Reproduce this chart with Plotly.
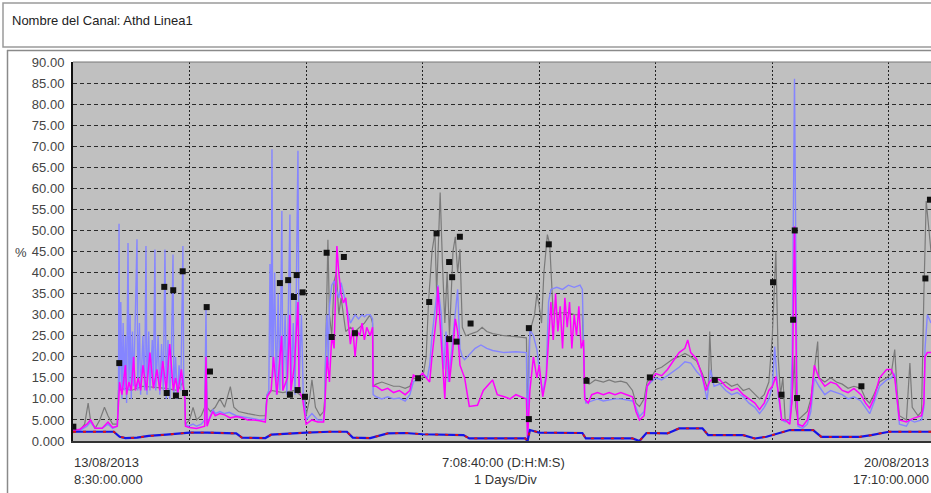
import plotly.graph_objects as go

# ---------------- data (x in days since 13/08/2013 08:30) ----------------
blue_x = [0.00,0.06,0.12,0.15,0.19,0.25,0.30,0.34,0.38,0.39,0.395,0.40,0.41,0.42,0.43,0.44,0.45,0.46,0.472,0.48,0.49,0.50,0.51,0.52,0.535,0.549,0.555,0.57,0.58,0.60,0.615,0.626,0.635,0.65,0.66,0.68,0.69,0.703,0.71,0.73,0.745,0.76,0.775,0.789,0.80,0.815,0.83,0.845,0.858,0.865,0.88,0.895,0.91,0.925,0.943,0.95,0.96,0.965,0.99,1.03,1.06,1.10,1.13,1.141,1.15,1.175,1.20,1.22,1.26,1.30,1.34,1.40,1.45,1.50,1.55,1.60,1.65,1.665,1.68,1.69,1.70,1.707,1.715,1.73,1.745,1.76,1.775,1.792,1.80,1.82,1.835,1.861,1.87,1.89,1.905,1.93,1.94,1.96,1.975,1.99,2.00,2.05,2.10,2.15,2.16,2.17,2.18,2.19,2.20,2.22,2.24,2.26,2.28,2.30,2.32,2.34,2.36,2.38,2.40,2.42,2.45,2.48,2.50,2.52,2.55,2.57,2.575,2.60,2.65,2.70,2.75,2.80,2.85,2.89,2.92,2.96,3.00,3.04,3.06,3.08,3.10,3.13,3.16,3.18,3.20,3.22,3.25,3.28,3.30,3.32,3.34,3.36,3.40,3.45,3.50,3.55,3.60,3.70,3.80,3.89,3.90,3.915,3.92,3.95,3.98,4.00,4.03,4.06,4.08,4.10,4.15,4.20,4.25,4.30,4.35,4.37,4.39,4.40,4.45,4.50,4.55,4.60,4.65,4.70,4.75,4.80,4.83,4.86,4.90,4.925,4.96,5.00,5.05,5.10,5.15,5.20,5.25,5.30,5.35,5.40,5.44,5.47,5.50,5.55,5.60,5.65,5.70,5.75,5.80,5.85,5.89,5.93,5.97,6.00,6.02,6.05,6.08,6.11,6.15,6.17,6.19,6.20,6.21,6.22,6.26,6.30,6.33,6.36,6.40,6.45,6.50,6.55,6.60,6.65,6.70,6.76,6.80,6.835,6.87,6.92,6.98,7.02,7.05,7.09,7.15,7.18,7.22,7.28,7.30,7.31,7.33,7.361]
blue_y = [3.0,2.5,3.5,4.5,3.0,3.0,4.0,3.0,3.5,10,51.6,12,33,10,28,12,25,9,47,12,30,10,26,13,30,47.9,12,28,11,25,12,46.3,11,26,12,24,13,45.5,12,25,11,23,12,45.5,10,24,10,22,44.3,11,20,10,18,12,46.3,13,10,4,3.5,4,3.5,4,5,31.8,4,6,7.5,6.5,7,6.5,6.8,6,5.8,5.5,5.3,5.0,5.2,11,12,42,20,69.3,15,40,11,35,12,54.6,12,30,11,53.8,12,28,11,68.9,13,30,11,8,5,6.5,5,5,8,25,30,18,32,37,38,36,34,37.6,35,33,30,28,29,30,29,30,29.5,30,30,29,11,10.5,10,10.5,10,10.2,9.5,11,14,15,16,15,18,25,30,37,30,17,26,14,22,30,36,22,20,19.3,20.5,22,22.8,22,21.5,21,21.2,21,0.2,24,26.4,25,21.7,17,11.3,16,33,36,36.5,36,37,36.5,37,36,11,9,9.5,10,9.5,9.8,10,10,9.8,9.5,8,5.8,7,13,14,15,14.5,15.5,16.5,17.5,18.8,18.5,16.5,15,9.8,16.9,13,13.5,12,11,11.5,10.5,9,8,6.5,8,10,13,22.4,11,5,4.5,5,20,86,50,15,3.5,3,4,7,15,13,11,12,11.5,11,10,10.5,9.5,8,6.5,9,13,14.5,15,16,4,3.5,5,4.5,5,8,22,30,28]

pink_x = [0.00,0.06,0.12,0.15,0.19,0.25,0.30,0.34,0.38,0.39,0.40,0.42,0.45,0.46,0.48,0.50,0.52,0.535,0.56,0.58,0.60,0.63,0.66,0.69,0.72,0.745,0.77,0.80,0.83,0.86,0.88,0.90,0.93,0.95,0.96,0.965,1.00,1.06,1.13,1.141,1.15,1.175,1.20,1.22,1.26,1.30,1.35,1.40,1.45,1.50,1.55,1.60,1.65,1.665,1.70,1.72,1.75,1.79,1.80,1.84,1.86,1.87,1.90,1.93,1.94,1.97,1.99,2.00,2.05,2.10,2.15,2.16,2.18,2.20,2.22,2.24,2.264,2.28,2.30,2.32,2.34,2.36,2.38,2.40,2.42,2.44,2.46,2.48,2.50,2.52,2.55,2.57,2.575,2.60,2.65,2.70,2.75,2.80,2.85,2.89,2.92,2.96,3.00,3.03,3.06,3.08,3.10,3.12,3.13,3.15,3.17,3.19,3.21,3.23,3.26,3.28,3.30,3.32,3.36,3.40,3.47,3.52,3.60,3.64,3.70,3.75,3.80,3.85,3.89,3.90,3.92,3.95,3.98,4.00,4.03,4.06,4.08,4.10,4.12,4.14,4.16,4.18,4.20,4.22,4.24,4.26,4.28,4.30,4.32,4.34,4.36,4.38,4.39,4.42,4.45,4.50,4.55,4.60,4.65,4.70,4.75,4.80,4.83,4.86,4.90,4.925,4.96,5.00,5.05,5.10,5.15,5.20,5.25,5.274,5.30,5.35,5.40,5.43,5.46,5.50,5.55,5.60,5.65,5.70,5.75,5.80,5.85,5.89,5.93,5.97,6.00,6.03,6.06,6.08,6.11,6.15,6.17,6.19,6.20,6.21,6.22,6.26,6.30,6.33,6.36,6.40,6.45,6.50,6.55,6.60,6.65,6.70,6.76,6.80,6.835,6.87,6.92,6.98,7.02,7.05,7.09,7.15,7.18,7.22,7.28,7.30,7.31,7.33,7.361]
pink_y = [2.5,2.8,4.0,5.0,3.0,3.0,4.5,3.2,3.5,8,14,11,18,11,14,12,20,12,15,12,18,12,21,12.5,17,12,19,12,23,12,15,11.5,17,12,10,3.5,3.2,3,3.5,20,3.5,5.5,7,6,6.5,6.2,5.5,5.8,5.5,5,5,4.8,4.5,10.5,12,20,11,25,12,15,30,12,18,33,12,10,5,4,5,4.5,4.5,8,20,14,25,22,46.3,40,35,32.8,34,28,23,27,20,26,25,28,24,27,25,27,13,13,12,12.5,11.5,12,11,12,15.7,15,16.1,15,14,20,25,30,36.7,28,20,10,25,14,22,29,26,18,15,8.2,8.5,12,14.5,11,10.5,10,11,10.5,10,0.5,12,20,15,18,10.5,15,24,33,24,35,26,32,22,34,27,33,22,30,25,32,22,24,10,9,11,11.5,11,11.5,11,11.5,11,10.5,7,5,6,13,14.5,16,15.5,17,19,21,22,24,21,19.5,15.3,12,14,15,14.5,13,12,12.5,11,10,9,7.5,9,12,13,15.3,10,5,5,4,10,51,28.8,10,4,3.5,5,9,18,15,13,14,13.5,12,11.5,12.5,11,9,7.8,10,15,17,17,15,5,4.5,5,5.5,6,9,20,21,21]

gray_x = [0.00,0.06,0.10,0.13,0.15,0.19,0.23,0.27,0.30,0.34,0.38,0.39,0.45,0.50,0.60,0.70,0.80,0.90,0.943,0.96,0.965,1.00,1.03,1.06,1.10,1.13,1.141,1.15,1.18,1.22,1.26,1.30,1.35,1.38,1.42,1.50,1.60,1.65,1.665,1.70,1.80,1.90,1.99,2.00,2.03,2.05,2.08,2.12,2.15,2.16,2.187,2.20,2.22,2.24,2.26,2.28,2.30,2.32,2.34,2.38,2.42,2.46,2.50,2.55,2.57,2.575,2.60,2.65,2.70,2.75,2.80,2.85,2.89,2.92,2.96,3.00,3.03,3.05,3.08,3.105,3.12,3.15,3.17,3.19,3.21,3.23,3.26,3.28,3.30,3.32,3.34,3.37,3.42,3.47,3.51,3.55,3.60,3.70,3.80,3.89,3.90,3.915,3.93,3.96,3.98,4.00,4.02,4.04,4.07,4.09,4.12,4.15,4.25,4.30,4.37,4.39,4.43,4.48,4.55,4.60,4.65,4.70,4.75,4.80,4.83,4.86,4.90,4.925,4.96,5.00,5.05,5.10,5.15,5.20,5.25,5.30,5.35,5.40,5.45,5.463,5.48,5.52,5.55,5.60,5.65,5.70,5.75,5.80,5.85,5.89,5.93,5.97,6.00,6.03,6.05,6.07,6.09,6.11,6.15,6.17,6.19,6.20,6.22,6.26,6.30,6.33,6.389,6.40,6.45,6.50,6.55,6.60,6.65,6.70,6.76,6.80,6.835,6.87,6.92,6.98,7.02,7.05,7.07,7.09,7.15,7.18,7.20,7.25,7.28,7.30,7.32,7.361]
gray_y = [2,2.5,4,9,5,3,5,8,6,4,4,12,12.5,12,13,12.8,12.5,12,14,10,4,5,8,5,6,8,20,8,7,8,10,8,12.9,8,7,6.5,6,6,11,12,11.5,12,10,6,10,14.5,8,6,7,10,47.8,30,25,38,40,30,34,30,26,27,26,27,28,30,28,13,13.5,14,13.5,13,13,12.5,13,15,14.5,15,20,33,45,49.5,35,59,42,28,40,25,45,48.5,40,45.5,27,25,25.5,26,27,26,25.5,25,24.8,24.5,5,24,27,30,35,32,28,40,49,46.7,30,30.4,30.5,30,30,14,13.5,14.5,14,14.5,14,14.2,13.8,12,9,8.2,10,14,15,17,17.5,18.5,19.5,20,20.8,20,19,16,12,26,15,14.5,13.5,14,13,13.5,12,12.5,11,10,11,14,25,45,20,11,15,5,5,10,20,8,5,6,7,10,23.6,15,14,15,14,13.5,12.5,13,12.5,10,9,11,14,15,16,21.7,12,6,5,18.5,8,6,7,35,57,45]

base_x = [0.00,0.35,0.40,0.45,0.55,0.65,0.80,0.95,1.00,1.15,1.40,1.45,1.65,1.70,1.90,2.00,2.20,2.35,2.40,2.55,2.70,2.85,3.00,3.35,3.40,3.88,3.90,3.92,4.00,4.37,4.40,4.80,4.86,4.92,5.10,5.20,5.40,5.45,5.75,5.85,5.95,6.05,6.15,6.35,6.42,6.75,6.85,7.00,7.361]
base_y = [2.2,2.2,1.0,0.7,0.8,1.2,1.5,1.8,2.0,2.0,1.8,0.8,0.7,1.5,1.9,2.0,2.2,2.2,0.8,0.7,1.8,1.9,1.6,1.4,0.6,0.6,0.0,2.6,2.0,1.9,0.6,0.6,0.0,1.9,1.8,3.0,3.0,1.4,1.4,0.6,1.0,1.8,2.6,2.6,1.0,1.0,1.4,2.2,2.2]

mark_x = [0.003,0.397,0.783,0.860,0.941,0.804,0.883,0.961,1.147,1.175,1.775,1.846,1.919,1.895,1.970,1.861,1.927,1.990,2.176,2.219,2.324,2.419,2.961,3.056,3.119,3.227,3.253,3.319,3.411,3.227,3.291,3.911,3.911,4.082,4.406,4.949,5.506,6.006,6.078,6.192,6.178,6.212,6.764,7.313,7.352]
mark_y = [3.4,18.5,36.6,35.8,40.3,11.4,10.8,11.4,31.8,16.5,37.5,38.2,39.4,34.2,35.3,11.0,12.1,10.5,44.7,24.7,43.7,25.6,14.9,33.0,49.3,42.5,38.9,48.5,27.9,24.2,23.6,5.2,26.8,46.7,14.3,15.1,14.5,37.7,11.0,50.0,28.8,10.2,13.0,38.6,57.3]

y_ticks = list(range(0, 95, 5))
y_labels = [f"{v:.2f}" if v >= 10 else f"{v:.3f}" for v in y_ticks]
title_text = "Nombre del Canal: Athd Linea1"
x_total_days = 7 + 8 / 24 + 40 / 1440

# ---------------- figure ----------------
W, H = 931, 493
L, R, T, B = 73, 0, 62, 52
pw, ph = W - L - R, H - T - B


def px(x):
    return (x - L) / pw


def py(y):
    return (H - B - y) / ph


fig = go.Figure()
fig.add_trace(go.Scatter(x=gray_x, y=gray_y, mode="lines",
                         line=dict(color="#7a7a7a", width=1.2), hoverinfo="skip"))
fig.add_trace(go.Scatter(x=blue_x, y=blue_y, mode="lines",
                         line=dict(color="#8585ff", width=1.4), hoverinfo="skip"))
fig.add_trace(go.Scatter(x=pink_x, y=pink_y, mode="lines",
                         line=dict(color="#ff00ff", width=1.5), hoverinfo="skip"))
fig.add_trace(go.Scatter(x=base_x, y=base_y, mode="lines",
                         line=dict(color="#1414e6", width=2.2), hoverinfo="skip"))
fig.add_trace(go.Scatter(x=base_x, y=base_y, mode="lines",
                         line=dict(color="#e01010", width=1.8, dash="3px,7px"), hoverinfo="skip"))
fig.add_trace(go.Scatter(x=mark_x, y=mark_y, mode="markers",
                         marker=dict(symbol="square", size=6, color="#111111"), hoverinfo="skip"))

FONT = "Liberation Sans, Arial, sans-serif"
fig.update_layout(
    width=W, height=H,
    margin=dict(l=L, r=R, t=T, b=B),
    paper_bgcolor="white",
    plot_bgcolor="#c0c0c0",
    showlegend=False,
    font=dict(family=FONT, size=13, color="#333333"),
    xaxis=dict(range=[0, x_total_days], dtick=1, tick0=0, showticklabels=False,
               showgrid=True, gridcolor="#222222", gridwidth=1, griddash="2px,2px",
               zeroline=False, showline=True, linecolor="#333333", linewidth=2,
               ticks="", fixedrange=True),
    yaxis=dict(range=[0, 90], tickvals=y_ticks, ticktext=y_labels,
               showgrid=True, gridcolor="#2a2a2a", gridwidth=1, griddash="4px,3px",
               zeroline=False, showline=True, linecolor="#111111", linewidth=2,
               ticks="", ticklabelstandoff=4, fixedrange=True,
               tickfont=dict(size=13, color="#444444")),
)

shapes = [
    dict(type="rect", xref="paper", yref="paper", x0=px(3), x1=px(940), y0=py(47), y1=py(3),
         line=dict(color="#9a9a9a", width=1.5), fillcolor="rgba(0,0,0,0)", layer="above"),
    dict(type="line", xref="paper", yref="paper", x0=px(7), x1=px(940), y0=py(50.5), y1=py(50.5),
         line=dict(color="#8a8a8a", width=1.5)),
    dict(type="line", xref="paper", yref="paper", x0=px(7.5), x1=px(7.5), y0=py(50), y1=py(500),
         line=dict(color="#8a8a8a", width=1.5)),
    dict(type="line", xref="paper", yref="paper", x0=0, x1=1, y0=1, y1=1,
         line=dict(color="#777777", width=1)),
]
fig.update_layout(shapes=shapes)

ann = [
    dict(text=title_text, x=px(10), y=py(20), xanchor="left", yanchor="middle",
         font=dict(size=13, color="#222222")),
    dict(text="%", x=px(13), y=py(252), xanchor="left", yanchor="middle",
         font=dict(size=13, color="#444444")),
    dict(text="13/08/2013", x=px(72), y=py(462), xanchor="left", yanchor="middle",
         font=dict(size=13, color="#333333")),
    dict(text="8:30:00.000", x=px(72), y=py(479), xanchor="left", yanchor="middle",
         font=dict(size=13, color="#333333")),
    dict(text="7:08:40:00 (D:H:M:S)", x=px(503), y=py(462), xanchor="center", yanchor="middle",
         font=dict(size=13, color="#333333")),
    dict(text="1 Days/Div", x=px(505), y=py(479), xanchor="center", yanchor="middle",
         font=dict(size=13, color="#333333")),
    dict(text="20/08/2013", x=px(931), y=py(462), xanchor="right", yanchor="middle",
         font=dict(size=13, color="#333333")),
    dict(text="17:10:00.000", x=px(931), y=py(479), xanchor="right", yanchor="middle",
         font=dict(size=13, color="#333333")),
]
for a in ann:
    a.update(xref="paper", yref="paper", showarrow=False)
fig.update_layout(annotations=ann)

fig.write_html("out.html")
